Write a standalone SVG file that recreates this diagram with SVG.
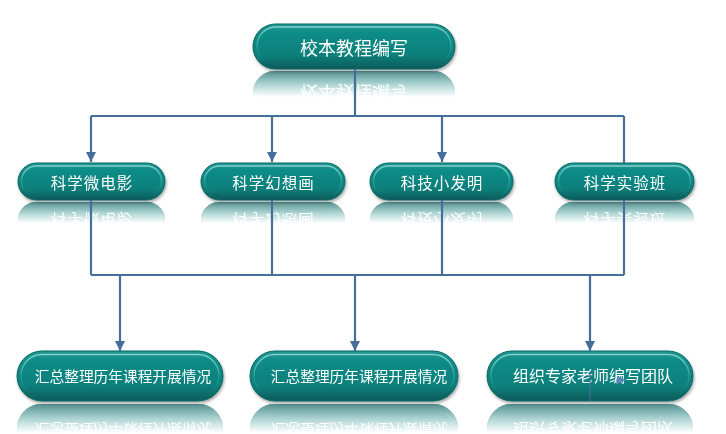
<svg xmlns="http://www.w3.org/2000/svg" width="726" height="434" viewBox="0 0 726 434">
<defs>
  <linearGradient id="bodyGrad" x1="0" y1="0" x2="0" y2="1">
    <stop offset="0" stop-color="#1d9893"/>
    <stop offset="0.2" stop-color="#0f8c87"/>
    <stop offset="0.7" stop-color="#0b7f7b"/>
    <stop offset="1" stop-color="#075a58"/>
  </linearGradient>
  <linearGradient id="hiGrad" x1="0" y1="0" x2="0" y2="1">
    <stop offset="0" stop-color="#8fd8d3" stop-opacity="0.9"/>
    <stop offset="0.55" stop-color="#5fbdb8" stop-opacity="0.35"/>
    <stop offset="1" stop-color="#2f9c97" stop-opacity="0"/>
  </linearGradient>
  <linearGradient id="fadeGrad" x1="0" y1="0" x2="0" y2="1">
    <stop offset="0" stop-color="#000"/>
    <stop offset="0.42" stop-color="#000"/>
    <stop offset="1" stop-color="#b0b0b0"/>
  </linearGradient>
  <mask id="fade" maskUnits="objectBoundingBox" maskContentUnits="objectBoundingBox" x="0" y="0" width="1" height="1">
    <rect x="0" y="0" width="1" height="1" fill="url(#fadeGrad)"/>
  </mask>
  <filter id="shadow" x="-10%" y="-30%" width="120%" height="170%">
    <feDropShadow dx="1" dy="2" stdDeviation="1.8" flood-color="#000" flood-opacity="0.35"/>
  </filter>
  <marker id="arrow" markerUnits="userSpaceOnUse" markerWidth="10" markerHeight="10" refX="10" refY="5" orient="auto">
    <path d="M0,0 L10,5 L0,10 z" fill="#466e9b"/>
  </marker>
  <style>
    .body { fill: url(#bodyGrad); stroke: #0a6764; stroke-width: 1; }
    .hi { fill: none; stroke: url(#hiGrad); stroke-width: 1.5; }
    .t { fill: #ffffff; font-family: "Noto Sans CJK SC", "Microsoft YaHei", sans-serif; text-anchor: middle; dominant-baseline: central; }
    .t18 { font-size: 18px; }
    .t16 { font-size: 15.5px; letter-spacing: 1px; }
    .t15 { font-size: 14.7px; }
    .t16b { font-size: 16px; }
    .conn { fill: none; stroke: #466e9b; stroke-width: 2.2; }
  </style>
</defs>
<rect width="726" height="434" fill="#ffffff"/>

<!-- reflections -->
<g id="reflections">
  <use href="#top-body" transform="translate(0,140) scale(1,-1)" mask="url(#fade)"/>
  <use href="#m1-body" transform="translate(0,402) scale(1,-1)" mask="url(#fade)"/>
  <use href="#m2-body" transform="translate(0,402) scale(1,-1)" mask="url(#fade)"/>
  <use href="#m3-body" transform="translate(0,402) scale(1,-1)" mask="url(#fade)"/>
  <use href="#m4-body" transform="translate(0,402) scale(1,-1)" mask="url(#fade)"/>
  <use href="#b1-body" transform="translate(0,805) scale(1,-1)" mask="url(#fade)"/>
  <use href="#b2-body" transform="translate(0,805) scale(1,-1)" mask="url(#fade)"/>
  <use href="#b3-body" transform="translate(0,805) scale(1,-1)" mask="url(#fade)"/>
</g>

<!-- nodes -->
<g id="node-top" filter="url(#shadow)">
  <g id="top-body">
    <rect class="body" x="253" y="24" width="202" height="45" rx="22.5"/>
    <rect class="hi" x="257" y="27" width="194" height="38" rx="19"/>
    <text class="t t18" x="354" y="46.5">校本教程编写</text>
  </g>
</g>
<g id="node-m1" filter="url(#shadow)">
  <g id="m1-body">
    <rect class="body" x="18" y="163" width="147" height="37" rx="18.5"/>
    <rect class="hi" x="21.5" y="166" width="140" height="30" rx="15"/>
    <text class="t t16" x="92" y="181.5">科学微电影</text>
  </g>
</g>
<g id="node-m2" filter="url(#shadow)">
  <g id="m2-body">
    <rect class="body" x="201" y="163" width="144" height="37" rx="18.5"/>
    <rect class="hi" x="204.5" y="166" width="137" height="30" rx="15"/>
    <text class="t t16" x="273.5" y="181.5">科学幻想画</text>
  </g>
</g>
<g id="node-m3" filter="url(#shadow)">
  <g id="m3-body">
    <rect class="body" x="370" y="163" width="143" height="37" rx="18.5"/>
    <rect class="hi" x="373.5" y="166" width="136" height="30" rx="15"/>
    <text class="t t16" x="442" y="181.5">科技小发明</text>
  </g>
</g>
<g id="node-m4" filter="url(#shadow)">
  <g id="m4-body">
    <rect class="body" x="555" y="163" width="139" height="37" rx="18.5"/>
    <rect class="hi" x="558.5" y="166" width="132" height="30" rx="15"/>
    <text class="t t16" x="625" y="181.5">科学实验班</text>
  </g>
</g>
<g id="node-b1" filter="url(#shadow)">
  <g id="b1-body">
    <rect class="body" x="17" y="351" width="206" height="50" rx="25"/>
    <rect class="hi" x="21" y="354.5" width="198" height="42" rx="21"/>
    <text class="t t15" x="123" y="375">汇总整理历年课程开展情况</text>
  </g>
</g>
<g id="node-b2" filter="url(#shadow)">
  <g id="b2-body">
    <rect class="body" x="250" y="351" width="208" height="50" rx="25"/>
    <rect class="hi" x="254" y="354.5" width="200" height="42" rx="21"/>
    <text class="t t15" x="359" y="375">汇总整理历年课程开展情况</text>
  </g>
</g>
<g id="node-b3" filter="url(#shadow)">
  <g id="b3-body">
    <rect class="body" x="487" y="351" width="206" height="50" rx="25"/>
    <rect class="hi" x="491" y="354.5" width="198" height="42" rx="21"/>
    <text class="t t16b" x="593" y="375">组织专家老师编写团队</text>
  </g>
</g>

<!-- connectors -->
<g id="connectors">
  <path class="conn" d="M355 69 V116"/>
  <path class="conn" d="M91 116 H624"/>
  <path class="conn" d="M91 116 V162" marker-end="url(#arrow)"/>
  <path class="conn" d="M272 116 V162" marker-end="url(#arrow)"/>
  <path class="conn" d="M442 116 V162" marker-end="url(#arrow)"/>
  <path class="conn" d="M624 116 V163"/>
  <path class="conn" d="M91 200 V275 M272 200 V275 M442 200 V275 M624 200 V275"/>
  <path class="conn" d="M91 275 H624"/>
  <path class="conn" d="M120 275 V351" marker-end="url(#arrow)"/>
  <path class="conn" d="M355 275 V351" marker-end="url(#arrow)"/>
  <path class="conn" d="M590 275 V351" marker-end="url(#arrow)"/>
  <path d="M590 372 V401" fill="none" stroke="#466e9b" stroke-width="1.2"/>
  <path d="M617 376 L626 380 L617 384 z" fill="#5a86b8"/>
</g>
</svg>
